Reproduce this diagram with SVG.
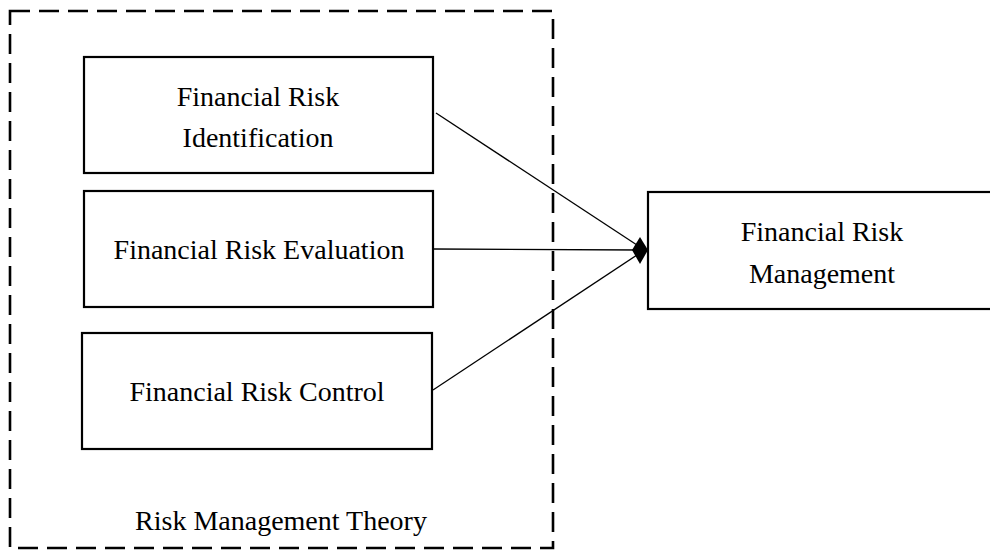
<svg xmlns="http://www.w3.org/2000/svg" width="990" height="552" viewBox="0 0 990 552">
<style>
.box{fill:#fff;stroke:#000;stroke-width:2.2}
.frame{fill:none;stroke:#000;stroke-width:2.6;stroke-dasharray:20 9}
.t{font-family:"Liberation Serif","Times New Roman",serif;font-size:28px;fill:#000;text-anchor:middle}
.c{stroke:#000;stroke-width:1.3;fill:none}
</style>
<rect width="990" height="552" fill="#fff"/>
<g id="theory">
<rect class="frame" x="10" y="11" width="543" height="537"/>
<text class="t" x="281" y="530">Risk Management Theory</text>
</g>
<g id="identification">
<rect class="box" x="84" y="57" width="349" height="116"/>
<text class="t" x="258" y="106">Financial Risk</text>
<text class="t" x="258" y="147">Identification</text>
</g>
<g id="evaluation">
<rect class="box" x="84" y="191" width="349" height="116"/>
<text class="t" x="259" y="259">Financial Risk Evaluation</text>
</g>
<g id="control">
<rect class="box" x="82" y="333" width="350" height="116"/>
<text class="t" x="257" y="401">Financial Risk Control</text>
</g>
<g id="management">
<rect class="box" x="648" y="192" width="350" height="117"/>
<text class="t" x="822" y="241">Financial Risk</text>
<text class="t" x="822" y="283">Management</text>
</g>
<g id="connectors">
<line class="c" x1="436" y1="113" x2="640" y2="247"/>
<line class="c" x1="433" y1="249" x2="640" y2="250"/>
<line class="c" x1="433" y1="390" x2="640" y2="253"/>
<polygon points="648,250 640,237 632,250 640,264" fill="#000"/>
</g>
</svg>
